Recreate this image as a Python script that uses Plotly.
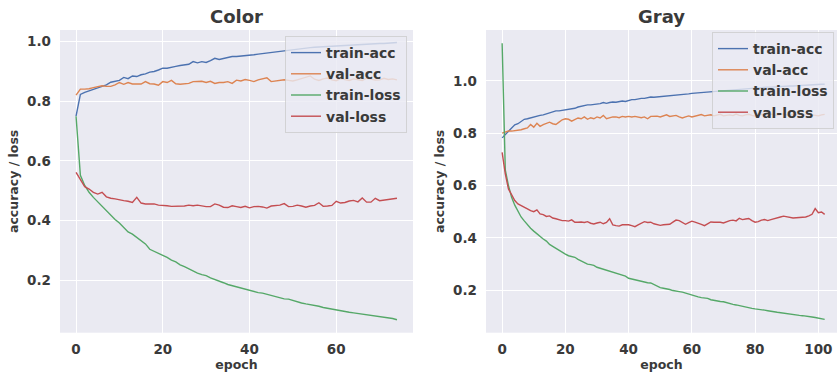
import plotly.graph_objects as go

# ---------------- data: Color (epochs 0..74) ----------------
color_train_acc = [0.75, 0.823, 0.830, 0.836, 0.840, 0.845, 0.850, 0.855, 0.864, 0.866,
                   0.870, 0.880, 0.876, 0.885, 0.883, 0.889, 0.892, 0.898, 0.900, 0.905,
                   0.911, 0.911, 0.913, 0.917, 0.920, 0.923, 0.924, 0.933, 0.929, 0.933,
                   0.930, 0.936, 0.944, 0.940, 0.944, 0.948, 0.950, 0.950,
                   0.951, 0.953, 0.955, 0.956, 0.958, 0.960, 0.962, 0.963, 0.966, 0.968,
                   0.970, 0.972, 0.974, 0.975, 0.977, 0.978, 0.980, 0.981, 0.982, 0.983,
                   0.984, 0.985, 0.986, 0.987, 0.988, 0.989, 0.989, 0.990, 0.991, 0.992,
                   0.992, 0.993, 0.994, 0.994, 0.995, 0.996, 0.997]
color_val_acc = [0.821, 0.841, 0.841, 0.842, 0.846, 0.850, 0.852, 0.850, 0.850, 0.855,
                 0.863, 0.857, 0.863, 0.858, 0.857, 0.858, 0.866, 0.859, 0.858, 0.854,
                 0.866, 0.863, 0.870, 0.859, 0.857, 0.858, 0.860, 0.866, 0.867, 0.867,
                 0.863, 0.867, 0.860, 0.863, 0.863, 0.866, 0.860, 0.871,
                 0.868, 0.873, 0.870, 0.866, 0.872, 0.875, 0.879, 0.866, 0.868, 0.870,
                 0.872, 0.870, 0.868, 0.872, 0.876, 0.880, 0.885, 0.874, 0.870, 0.875,
                 0.878, 0.872, 0.869, 0.876, 0.873, 0.870, 0.875, 0.872, 0.870, 0.878,
                 0.874, 0.871, 0.872, 0.877, 0.873, 0.875, 0.872]
color_train_loss = [0.75, 0.552, 0.518, 0.495, 0.478, 0.463, 0.448, 0.432, 0.418, 0.404,
                    0.392, 0.378, 0.362, 0.355, 0.343, 0.333, 0.322, 0.304, 0.298, 0.292,
                    0.284, 0.277, 0.268, 0.262, 0.252, 0.246, 0.238, 0.232, 0.224, 0.219,
                    0.216, 0.208, 0.203, 0.199, 0.192, 0.186, 0.182, 0.179, 0.175, 0.171,
                    0.167, 0.163, 0.159, 0.157, 0.153, 0.149, 0.146, 0.143, 0.138, 0.137,
                    0.132, 0.128, 0.124, 0.121, 0.119, 0.117, 0.113, 0.109, 0.106, 0.104,
                    0.101, 0.098, 0.096, 0.093, 0.091, 0.089, 0.087, 0.085, 0.083, 0.081,
                    0.078, 0.076, 0.074, 0.072, 0.068]
color_val_loss = [0.562, 0.536, 0.514, 0.506, 0.495, 0.489, 0.495, 0.480, 0.475, 0.473,
                  0.469, 0.467, 0.465, 0.461, 0.478, 0.459, 0.456, 0.456, 0.456, 0.452,
                  0.452, 0.450, 0.448, 0.448, 0.450, 0.449, 0.452, 0.450, 0.452, 0.449,
                  0.447, 0.447, 0.456, 0.452, 0.445, 0.444, 0.450, 0.447,
                  0.444, 0.448, 0.443, 0.447, 0.448, 0.446, 0.442, 0.449, 0.450, 0.452,
                  0.457, 0.447, 0.448, 0.452, 0.449, 0.445, 0.449, 0.451, 0.460, 0.448,
                  0.449, 0.451, 0.465, 0.459, 0.461, 0.466, 0.468, 0.463, 0.476, 0.462,
                  0.462, 0.475, 0.467, 0.469, 0.471, 0.473, 0.475]

# ---------------- data: Gray (epochs 0..102) ----------------
gray_train_acc = [0.782, 0.795, 0.810, 0.823, 0.832, 0.836, 0.846, 0.853, 0.855, 0.859,
                  0.860, 0.865, 0.868, 0.870, 0.874, 0.878, 0.881, 0.885, 0.885, 0.887,
                  0.890, 0.891, 0.894, 0.895, 0.900, 0.903, 0.906, 0.908, 0.908, 0.910,
                  0.910, 0.913, 0.917, 0.914, 0.917, 0.919, 0.918, 0.922, 0.923, 0.921,
                  0.926, 0.928, 0.928, 0.931, 0.933, 0.933, 0.936, 0.938, 0.937, 0.938,
                  0.939, 0.940, 0.940, 0.942, 0.943, 0.944, 0.945, 0.947, 0.949, 0.950,
                  0.952, 0.953, 0.954, 0.955, 0.956, 0.957, 0.958, 0.960, 0.962, 0.963,
                  0.964, 0.965, 0.966, 0.967, 0.968, 0.969, 0.970, 0.971, 0.972, 0.973,
                  0.974, 0.974, 0.975, 0.975, 0.976, 0.976, 0.977, 0.977, 0.978, 0.978,
                  0.979, 0.980, 0.980, 0.981, 0.982, 0.982, 0.983, 0.984, 0.985, 0.985,
                  0.986, 0.987, 0.987]
gray_val_acc = [0.800, 0.804, 0.808, 0.808, 0.810, 0.810, 0.813, 0.817, 0.820, 0.833,
                0.823, 0.838, 0.826, 0.833, 0.838, 0.842, 0.836, 0.833, 0.842, 0.851,
                0.855, 0.853, 0.846, 0.851, 0.858, 0.855, 0.862, 0.853, 0.859, 0.855,
                0.862, 0.858, 0.868, 0.855, 0.859, 0.862, 0.862, 0.859, 0.864, 0.862,
                0.864, 0.862, 0.864, 0.862, 0.859, 0.862, 0.855, 0.864, 0.865, 0.865,
                0.862, 0.866, 0.870, 0.864, 0.867, 0.868, 0.862, 0.858, 0.862, 0.866,
                0.862, 0.865, 0.868, 0.871, 0.866, 0.868, 0.870, 0.866, 0.869, 0.872,
                0.866, 0.868, 0.870, 0.867, 0.873, 0.868, 0.866, 0.870, 0.872, 0.868,
                0.865, 0.869, 0.872, 0.870, 0.868, 0.873, 0.869, 0.867, 0.871, 0.874,
                0.870, 0.868, 0.872, 0.870, 0.873, 0.869, 0.871, 0.874, 0.870, 0.868,
                0.866, 0.870, 0.872]
gray_train_loss = [1.143, 0.660, 0.600, 0.555, 0.525, 0.500, 0.480, 0.465, 0.450, 0.437,
                   0.426, 0.415, 0.405, 0.396, 0.388, 0.375, 0.368, 0.360, 0.353, 0.346,
                   0.338, 0.332, 0.330, 0.326, 0.318, 0.312, 0.305, 0.300, 0.298, 0.295,
                   0.288, 0.284, 0.280, 0.276, 0.271, 0.268, 0.266, 0.260, 0.256, 0.254,
                   0.246, 0.243, 0.240, 0.237, 0.235, 0.230, 0.229, 0.228, 0.222, 0.216,
                   0.210, 0.208, 0.206, 0.203, 0.199, 0.196, 0.195, 0.193, 0.189, 0.185,
                   0.181, 0.178, 0.175, 0.172, 0.170, 0.169, 0.164, 0.161, 0.159, 0.157,
                   0.156, 0.152, 0.147, 0.146, 0.144, 0.141, 0.139, 0.136, 0.134, 0.131,
                   0.129, 0.128, 0.126, 0.124, 0.122, 0.121, 0.118, 0.116, 0.114, 0.112,
                   0.110, 0.109, 0.107, 0.106, 0.104, 0.103, 0.102, 0.100, 0.098, 0.096,
                   0.094, 0.092, 0.089]
gray_val_loss = [0.727, 0.645, 0.587, 0.562, 0.543, 0.530, 0.524, 0.520, 0.511, 0.504,
                 0.500, 0.507, 0.492, 0.489, 0.482, 0.484, 0.476, 0.473, 0.469, 0.466,
                 0.466, 0.464, 0.469, 0.460, 0.460, 0.461, 0.459, 0.462, 0.456, 0.453,
                 0.457, 0.460, 0.454, 0.459, 0.473, 0.450, 0.447, 0.445, 0.450, 0.450,
                 0.450, 0.447, 0.443, 0.450, 0.456, 0.462, 0.459, 0.460, 0.454, 0.452,
                 0.448, 0.450, 0.452, 0.452, 0.460, 0.468, 0.466, 0.458, 0.452, 0.458,
                 0.464, 0.460, 0.457, 0.452, 0.447, 0.455, 0.461, 0.460, 0.461, 0.460,
                 0.457, 0.462, 0.466, 0.468, 0.465, 0.475, 0.470, 0.472, 0.474, 0.466,
                 0.460, 0.462, 0.468, 0.470, 0.466, 0.470, 0.474, 0.476, 0.480, 0.483,
                 0.481, 0.478, 0.476, 0.477, 0.478, 0.477, 0.480, 0.484, 0.490, 0.512,
                 0.496, 0.499, 0.490]

series_names = ["train-acc", "val-acc", "train-loss", "val-loss"]
series_colors = ["#4C72B0", "#DD8452", "#55A868", "#C44E52"]
panel_titles = ["Color", "Gray"]
x_label = "epoch"
y_label = "accuracy / loss"

W, H = 837, 372
FONT = "DejaVu Sans"
TXT = "#3a3a3a"
BG = "#EAEAF2"

fig = go.Figure()

panels = [
    ([color_train_acc, color_val_acc, color_train_loss, color_val_loss], "x", "y", "legend"),
    ([gray_train_acc, gray_val_acc, gray_train_loss, gray_val_loss], "x2", "y2", "legend2"),
]
for data, xa, ya, lg in panels:
    for name, col, vals in zip(series_names, series_colors, data):
        fig.add_trace(go.Scatter(
            x=list(range(len(vals))), y=vals, mode="lines", name=name,
            line=dict(color=col, width=1.4), xaxis=xa, yaxis=ya, legend=lg,
        ))

def px_x(p):
    return p / W

def px_y(p):
    return 1 - p / H

top, bottom = 30, 332.7
ydom = [px_y(bottom), px_y(top)]

common_axis = dict(
    showgrid=True, gridcolor="white", gridwidth=1.2, zeroline=False, showline=False,
    ticks="", tickfont=dict(family=FONT, size=13.5, color=TXT, weight="bold"),
)

tfont = dict(family=FONT, size=12.5, color=TXT, weight="bold")
lfont = dict(family=FONT, size=14, color=TXT, weight="bold")

fig.update_layout(
    width=W, height=H, margin=dict(l=0, r=0, t=0, b=0),
    paper_bgcolor="white", plot_bgcolor=BG,
    showlegend=True,
    xaxis=dict(domain=[px_x(60), px_x(413)], range=[-3.7, 77.7], dtick=20, tick0=0,
               anchor="y", ticklabelstandoff=7,
               title=dict(text=x_label, font=tfont, standoff=3), **common_axis),
    yaxis=dict(domain=ydom, range=[0.0245, 1.039], dtick=0.2, tick0=0, tickformat=".1f",
               anchor="x", ticklabelstandoff=8,
               title=dict(text=y_label, font=tfont, standoff=5), **common_axis),
    xaxis2=dict(domain=[px_x(486), 1.0], range=[-5.1, 105.9], dtick=20, tick0=0,
                anchor="y2", ticklabelstandoff=7,
                title=dict(text=x_label, font=tfont, standoff=3), **common_axis),
    yaxis2=dict(domain=ydom, range=[0.038, 1.194], dtick=0.2, tick0=0, tickformat=".1f",
                anchor="x2", ticklabelstandoff=8,
                title=dict(text=y_label, font=tfont, standoff=5), **common_axis),
    legend=dict(x=px_x(407), xanchor="right", y=px_y(36), yanchor="top",
                bgcolor="rgba(234,234,242,0.8)", bordercolor="rgba(204,204,204,0.8)",
                borderwidth=1, font=lfont, tracegroupgap=0, itemwidth=30),
    legend2=dict(x=px_x(834), xanchor="right", y=px_y(32), yanchor="top",
                 bgcolor="rgba(234,234,242,0.8)", bordercolor="rgba(204,204,204,0.8)",
                 borderwidth=1, font=lfont, tracegroupgap=0, itemwidth=30),
    annotations=[
        dict(text=panel_titles[0], x=px_x((60 + 413) / 2), y=px_y(17), xref="paper", yref="paper",
             showarrow=False, xanchor="center", yanchor="middle",
             font=dict(family=FONT, size=18, color=TXT, weight="bold")),
        dict(text=panel_titles[1], x=px_x((486 + 837) / 2), y=px_y(17), xref="paper", yref="paper",
             showarrow=False, xanchor="center", yanchor="middle",
             font=dict(family=FONT, size=18, color=TXT, weight="bold")),
    ],
)

fig.write_html("out.html")
